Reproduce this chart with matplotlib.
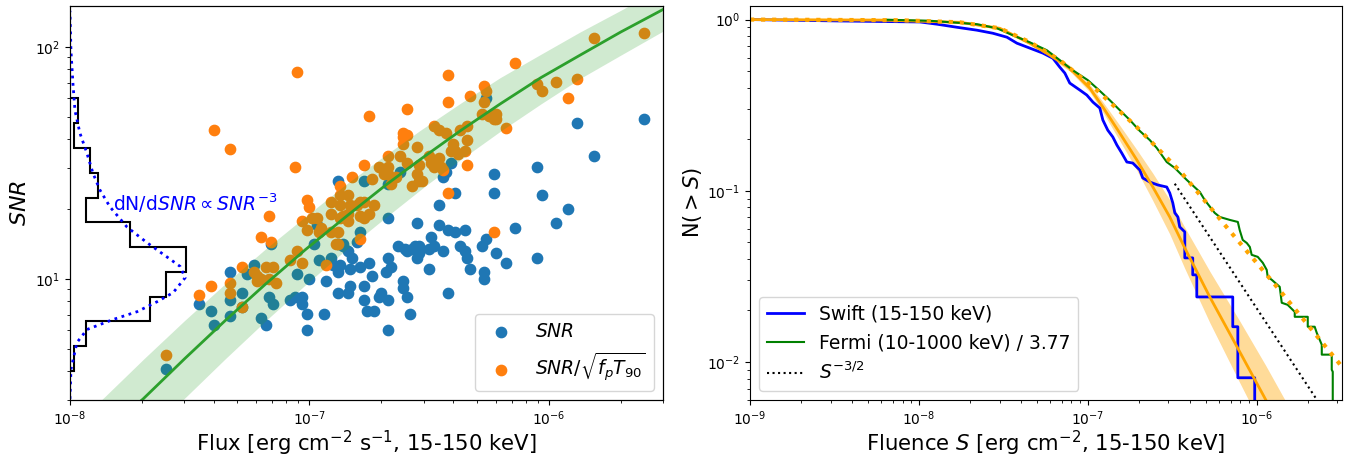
import numpy as np
import matplotlib
matplotlib.use('Agg')
import matplotlib.pyplot as plt

# ---------------- left panel: SNR against peak flux (log10 values) ----------------
snr_logflux = [-7.60, -7.46, -7.41, -7.40, -7.33, -7.33, -7.33, -7.28, -7.28, -7.23,
               -7.26, -7.20, -7.18, -7.17, -7.15, -7.16, -7.08, -7.06, -7.05, -7.03,
               -7.03, -7.01, -7.01, -7.00, -6.98, -6.97, -6.96, -6.94, -6.93, -6.91,
               -6.90, -6.88, -6.88, -6.88, -6.86, -6.88, -6.77, -6.67, -6.62, -6.44,
               -6.43, -6.41, -6.39, -6.46, -6.26, -6.23, -6.23, -6.05, -6.03, -5.92,
               -5.97, -6.14, -6.05, -6.18, -6.22, -5.88, -5.60, -5.81, -6.67, -6.55,
               -6.46, -6.42, -6.39, -6.35, -6.49, -6.48, -6.50, -6.63, -6.60, -6.57,
               -6.56, -6.54, -6.54, -6.55, -6.59, -6.44, -6.37, -6.35, -6.34, -6.33,
               -6.28, -6.26, -6.27, -6.27, -6.67, -6.66, -6.50, -6.75, -6.79, -6.83,
               -6.87, -6.74, -6.68, -6.77, -6.83, -6.84, -6.70, -6.71, -6.67, -6.77,
               -6.76, -6.73, -6.61, -6.61, -6.59, -6.58, -6.42, -6.67, -6.82, -6.84,
               -6.80, -6.79, -6.86]
snr_logsnr = [0.61, 0.89, 0.86, 0.80, 1.03, 0.91, 0.84, 0.94, 0.88, 1.06,
              1.02, 0.83, 0.80, 0.92, 0.89, 1.15, 0.91, 0.92, 1.02, 0.92,
              0.89, 0.85, 0.78, 1.00, 1.15, 1.23, 1.08, 0.85, 0.99, 1.09,
              1.06, 1.03, 0.94, 1.15, 1.14, 1.42, 1.42, 1.41, 1.46, 1.44,
              1.46, 1.50, 1.37, 1.32, 1.78, 1.45, 1.37, 1.48, 1.36, 1.30,
              1.24, 1.22, 1.09, 1.07, 1.11, 1.67, 1.69, 1.53, 1.26, 1.24,
              1.23, 1.21, 1.20, 1.21, 1.18, 1.14, 1.13, 1.14, 1.13, 1.13,
              1.14, 1.14, 1.11, 1.09, 1.12, 1.12, 1.14, 1.12, 1.09, 1.04,
              1.14, 1.17, 1.03, 1.00, 1.09, 1.05, 1.04, 1.07, 1.05, 1.04,
              1.06, 1.01, 1.03, 0.97, 0.97, 0.94, 0.94, 0.92, 0.91, 0.91,
              0.86, 0.86, 0.99, 0.96, 0.92, 0.85, 0.94, 0.78, 1.09, 1.12,
              1.16, 1.20, 1.15]

norm_logflux = [-7.60, -7.46, -7.41, -7.33, -7.33, -7.28, -7.28, -7.40, -7.33, -7.06,
                -7.05, -7.01, -7.00, -7.17, -7.20, -7.16, -7.23, -7.22, -7.18, -7.15,
                -7.20, -7.17, -7.14, -7.22, -7.08, -7.05, -7.03, -7.03, -7.01, -6.99,
                -6.97, -6.96, -6.95, -6.93, -6.91, -6.91, -6.88, -6.88, -6.86, -6.87,
                -6.87, -6.87, -6.87, -6.84, -6.83, -6.80, -6.79, -6.77, -6.73, -6.82,
                -6.77, -6.74, -6.71, -6.69, -6.67, -6.67, -6.66, -6.64, -6.67, -6.62,
                -6.61, -6.55, -6.59, -6.54, -6.55, -6.54, -6.53, -6.57, -6.50, -6.49,
                -6.46, -6.45, -6.44, -6.48, -6.40, -6.39, -6.35, -6.38, -6.41, -6.34,
                -6.37, -6.34, -6.48, -6.46, -6.43, -6.61, -6.61, -6.59, -6.28, -6.25,
                -6.23, -6.23, -6.27, -6.26, -6.27, -6.33, -6.42, -6.42, -6.59, -6.75,
                -6.34, -6.42, -6.23, -6.79, -6.89, -6.91, -6.18, -6.22, -6.22, -6.14,
                -6.05, -6.03, -5.97, -5.88, -5.92, -5.81, -5.60, -6.84, -6.84, -6.79,
                -6.75, -6.77]
norm_logsnr = [0.67, 0.93, 0.97, 0.98, 0.94, 0.88, 1.05, 1.64, 1.56, 1.48,
               1.89, 1.34, 1.31, 1.27, 1.18, 1.16, 1.03, 1.01, 1.05, 1.05,
               1.00, 1.00, 0.98, 0.99, 1.08, 1.12, 1.07, 1.25, 1.21, 1.26,
               1.26, 1.20, 1.22, 1.06, 1.28, 1.33, 1.20, 1.15, 1.27, 1.26,
               1.40, 1.36, 1.32, 1.36, 1.32, 1.32, 1.33, 1.33, 1.32, 1.44,
               1.49, 1.43, 1.48, 1.45, 1.45, 1.48, 1.41, 1.44, 1.53, 1.53,
               1.58, 1.57, 1.50, 1.49, 1.45, 1.42, 1.42, 1.40, 1.53, 1.50,
               1.52, 1.48, 1.47, 1.48, 1.58, 1.55, 1.55, 1.54, 1.55, 1.60,
               1.64, 1.66, 1.66, 1.64, 1.63, 1.63, 1.61, 1.62, 1.71, 1.70,
               1.69, 1.71, 1.83, 1.81, 1.76, 1.79, 1.76, 1.88, 1.73, 1.70,
               1.49, 1.37, 1.20, 1.17, 1.15, 1.20, 1.65, 1.71, 1.69, 1.93,
               1.84, 1.81, 1.85, 1.86, 1.78, 2.04, 2.06, 1.28, 1.25, 1.27,
               1.28, 1.26]

# expected SNR for a given flux, with its spread in flux
fit_logflux = [-7.71, -7.695, -7.519, -7.351, -7.184, -7.017, -6.849, -6.682, -6.536,
               -6.368, -6.201, -6.033, -5.866, -5.699, -5.519, -5.50]
fit_logsnr = [0.468, 0.481, 0.657, 0.820, 0.976, 1.125, 1.266, 1.403, 1.515,
              1.639, 1.755, 1.867, 1.966, 2.064, 2.163, 2.174]
fit_spread_dex = 0.17

# SNR distribution, drawn sideways
hist_edges = [4.0, 5.12, 6.55, 8.38, 10.7, 13.7, 17.5, 22.4, 28.7, 36.7, 46.9, 60.0]
hist_counts = [1, 4, 20, 24, 29, 15, 4, 7, 5, 1, 2]
hist_xmax = 148
model_counts = [0, 0.25, 1.75, 4.25, 10.75, 16.75, 21.75, 25.75, 28.75, 27.5, 24.25,
                19.25, 14.25, 10, 7.5, 5.75, 4.25, 2.5, 1.25, 0.75, 0.25, 0]
model_snr = [3.03, 4.07, 5.31, 6.04, 6.67, 7.21, 7.96, 8.71, 10.1, 11.3, 12.4,
             14.3, 16.7, 20.4, 24.1, 28.5, 34.7, 42.4, 53.1, 69.3, 96.1, 143]

# ---------------- right panel: cumulative fluence distributions (log10 values) ----------------
swift_logS = [-9.000, -8.485, -7.994, -7.893, -7.775, -7.657, -7.562, -7.479, -7.420, -7.343,
              -7.266, -7.207, -7.166, -7.136, -7.107, -7.047, -7.006, -6.970, -6.929, -6.911,
              -6.882, -6.852, -6.828, -6.799, -6.769, -6.734, -6.692, -6.675, -6.633, -6.586,
              -6.533, -6.515, -6.497, -6.485, -6.467, -6.456, -6.426, -6.426, -6.379, -6.379,
              -6.355, -6.355, -6.142, -6.142, -6.112, -6.112, -6.012]
swift_logN = [0.000, -0.008, -0.014, -0.027, -0.045, -0.062, -0.080, -0.103, -0.138, -0.167,
              -0.196, -0.226, -0.278, -0.313, -0.371, -0.412, -0.441, -0.482, -0.517, -0.587,
              -0.646, -0.686, -0.733, -0.780, -0.832, -0.838, -0.879, -0.925, -0.949, -0.966,
              -0.978, -1.013, -1.071, -1.129, -1.153, -1.211, -1.240, -1.392, -1.392, -1.491,
              -1.491, -1.620, -1.620, -1.794, -1.794, -2.092, -2.092]

fermi_logS = [-8.189, -7.935, -7.657, -7.538, -7.444, -7.343, -7.243, -7.166, -7.089, -7.000,
              -6.941, -6.870, -6.811, -6.751, -6.692, -6.633, -6.592, -6.533, -6.485, -6.414,
              -6.337, -6.308, -6.249, -6.219, -6.160, -6.112, -6.101, -6.083, -6.059, -6.041,
              -6.030, -5.994, -5.964, -5.941, -5.935, -5.911, -5.864, -5.852, -5.817, -5.775,
              -5.775, -5.698, -5.698, -5.657, -5.645, -5.615, -5.615, -5.556, -5.556, -5.550]
fermi_logN = [-0.001, -0.007, -0.027, -0.051, -0.092, -0.133, -0.179, -0.237, -0.296, -0.354,
              -0.406, -0.471, -0.529, -0.587, -0.651, -0.704, -0.750, -0.832, -0.867, -0.937,
              -1.007, -1.054, -1.129, -1.153, -1.170, -1.182, -1.229, -1.287, -1.305, -1.328,
              -1.374, -1.386, -1.421, -1.462, -1.503, -1.520, -1.561, -1.654, -1.666, -1.707,
              -1.736, -1.736, -1.794, -1.794, -1.829, -1.899, -1.957, -1.957, -2.045, -2.057]

# fitted models
swift_fit_logS = [-9.000, -8.231, -7.757, -7.521, -7.343, -7.225, -7.107, -6.988, -6.911,
                  -6.811, -6.710, -6.615, -6.515, -6.426, -6.278, -6.101, -5.947, -5.834]
swift_fit_logN = [0.000, -0.003, -0.016, -0.051, -0.138, -0.208, -0.284, -0.401, -0.511,
                  -0.663, -0.820, -0.978, -1.153, -1.334, -1.620, -1.940, -2.220, -2.430]
swift_fit_dex = [0.0, 0.002, 0.004, 0.006, 0.010, 0.013, 0.017, 0.022, 0.030,
                 0.045, 0.060, 0.080, 0.100, 0.120, 0.150, 0.180, 0.200, 0.210]
fermi_fit_logS = [-9.000, -8.112, -7.757, -7.521, -7.343, -7.166, -6.947, -6.710,
                  -6.444, -6.160, -5.876, -5.515, -5.450]
fermi_fit_logN = [0.000, -0.004, -0.016, -0.051, -0.132, -0.237, -0.412, -0.628,
                  -0.896, -1.234, -1.567, -2.004, -2.085]

# Euclidean S^-3/2 reference
euclid_S0 = 3.27e-7
euclid_N0 = 0.11
euclid_Smax = 3.2e-6

fig = plt.figure(figsize=(13.48, 4.55), dpi=100)
ax = fig.add_axes([0.0519, 0.1209, 0.4399, 0.8659])
bx = fig.add_axes([0.5564, 0.1209, 0.4392, 0.8659])

# left panel
ax.scatter(10 ** np.array(snr_logflux), 10 ** np.array(snr_logsnr), s=55, color='C0',
           label='$SNR$')
ax.scatter(10 ** np.array(norm_logflux), 10 ** np.array(norm_logsnr), s=55, color='C1',
           label=r'$SNR/\sqrt{f_pT_{90}}$')
fit_f = 10 ** np.array(fit_logflux)
fit_s = 10 ** np.array(fit_logsnr)
ax.fill_betweenx(fit_s, fit_f / 10 ** fit_spread_dex, fit_f * 10 ** fit_spread_dex,
                 color='tab:green', alpha=0.22, lw=0, zorder=3)
ax.plot(fit_f, fit_s, color='tab:green', lw=2, zorder=4)
ax.set_xscale('log')
ax.set_yscale('log')
ax.set_xlim(1e-8, 3e-6)
ax.set_xlabel(r'Flux [erg cm$^{-2}$ s$^{-1}$, 15-150 keV]', fontsize=15.3, labelpad=0)
ax.set_ylabel('$SNR$', fontsize=16)
ax.legend(loc='lower right', fontsize=13.5)

axh = ax.twiny()
axh.stairs(hist_counts, hist_edges, orientation='horizontal', color='k', lw=1.5)
axh.plot(model_counts, model_snr, ':', color='blue', lw=2)
axh.set_xlim(0, hist_xmax)
axh.set_xticks([])
ax.text(1.51e-8, 21.2, r'dN/d$SNR \propto SNR^{-3}$', color='blue', fontsize=13.5,
        ha='left', va='center')
ax.set_ylim(3.0, 150)

# right panel
sw_S = 10 ** np.array(swift_logS)
sw_N = 10 ** np.array(swift_logN)
bx.plot(np.append(sw_S, sw_S[-1]), np.append(sw_N, 0.0), color='blue', lw=2,
        label='Swift (15-150 keV)')
fS = 10 ** np.array(swift_fit_logS)
fN = 10 ** np.array(swift_fit_logN)
fd = 10 ** np.array(swift_fit_dex)
bx.fill_between(fS, fN / fd, fN * fd, color='orange', alpha=0.4, lw=0)
bx.plot(fS, fN, color='orange', lw=2)
fe_S = 10 ** np.array(fermi_logS)
fe_N = 10 ** np.array(fermi_logN)
bx.plot(np.append(fe_S, fe_S[-1]), np.append(fe_N, 0.0), color='green', lw=1.5,
        label='Fermi (10-1000 keV) / 3.77')
bx.plot(10 ** np.array(fermi_fit_logS), 10 ** np.array(fermi_fit_logN), ':',
        color='orange', lw=3)
eS = np.array([euclid_S0, euclid_Smax])
bx.plot(eS, euclid_N0 * (eS / euclid_S0) ** -1.5, ':', color='k', lw=1.5,
        label='$S^{-3/2}$')
bx.set_xscale('log')
bx.set_yscale('log')
bx.set_xlim(1e-9, 3.2e-6)
bx.set_ylim(0.006, 1.2)
bx.set_xlabel(r'Fluence $S$ [erg cm$^{-2}$, 15-150 keV]', fontsize=15.3, labelpad=0)
bx.set_ylabel(r'N$(>S)$', fontsize=15, labelpad=2)
bx.legend(loc='lower left', fontsize=13.5)

fig.savefig('out.png', dpi=100)
